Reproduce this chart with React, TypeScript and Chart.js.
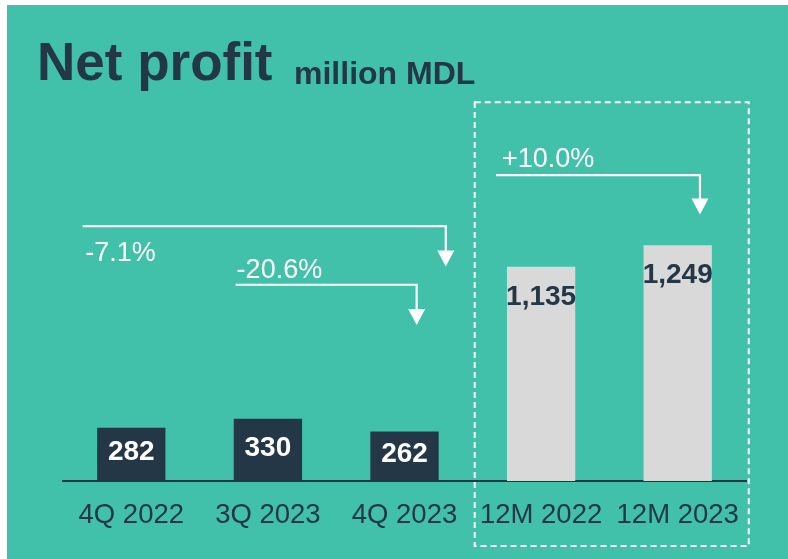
import { useEffect, useRef } from 'react';
import { Chart, registerables } from 'chart.js';

Chart.register(...registerables);

// ---- data ----
const categories = ['4Q 2022', '3Q 2023', '4Q 2023', '12M 2022', '12M 2023'];
const netProfit = [282, 330, 262, 1135, 1249];
const valueLabels = ['282', '330', '262', '1,135', '1,249'];
const changeLabels = ['-7.1%', '-20.6%', '+10.0%'];
const titleText = 'Net profit';
const unitText = 'million MDL';

// ---- styles ----
const TEAL = '#41C1AA';
const DARK = '#243746';
const GRAY = '#D9D9D9';
const FONT = '"Liberation Sans", Arial, sans-serif';
const barColors = [DARK, DARK, DARK, GRAY, GRAY];
const labelColors = ['#FFFFFF', '#FFFFFF', '#FFFFFF', DARK, DARK];

// annotation geometry in scale units (x = category index, y = value)
const arrowFromX = [-0.356, 0.764, 2.67];
const arrowToX = [2.302, 2.089, 4.163];
const arrowLevelY = [1351, 1040, 1621];
const arrowTipY = [1137, 827, 1412];
const changeLabelX = [-0.337, 0.771, 2.714];
const changeLabelY = [1165, 1075, 1665];
const boxX = [2.514, 4.52];
const boxY = [2007, -345];

const decorPlugin = {
  id: 'decor',
  beforeDraw(chart: any) {
    const ctx = chart.ctx;
    ctx.save();
    ctx.fillStyle = '#FFFFFF';
    ctx.fillRect(0, 0, chart.width, chart.height);
    ctx.fillStyle = TEAL;
    ctx.fillRect(7, 5, chart.width - 7, chart.height - 5);
    // title
    ctx.fillStyle = DARK;
    ctx.textBaseline = 'alphabetic';
    ctx.textAlign = 'left';
    ctx.font = `bold 53px ${FONT}`;
    ctx.fillText(titleText, 37, 80);
    ctx.font = `bold 32px ${FONT}`;
    ctx.fillText(unitText, 294, 84);
    ctx.restore();
  },
  afterDatasetsDraw(chart: any) {
    const ctx = chart.ctx;
    const xs = chart.scales.x;
    const ys = chart.scales.y;
    const meta = chart.getDatasetMeta(0);
    ctx.save();
    // value labels
    ctx.font = `bold 28px ${FONT}`;
    ctx.textAlign = 'center';
    ctx.textBaseline = 'middle';
    meta.data.forEach((bar: any, i: number) => {
      const top = bar.y;
      const base = bar.base;
      const y = Math.min(top + 30, (top + base) / 2 - 2);
      ctx.fillStyle = labelColors[i];
      ctx.fillText(valueLabels[i], bar.x, y);
    });
    // arrows
    ctx.strokeStyle = '#FFFFFF';
    ctx.fillStyle = '#FFFFFF';
    ctx.lineWidth = 2.2;
    changeLabels.forEach((lbl, i) => {
      const x0 = xs.getPixelForValue(arrowFromX[i]);
      const x1 = xs.getPixelForValue(arrowToX[i]);
      const y0 = ys.getPixelForValue(arrowLevelY[i]);
      const tip = ys.getPixelForValue(arrowTipY[i]);
      const headH = 16;
      const headW = 8.5;
      ctx.beginPath();
      ctx.moveTo(x0, y0);
      ctx.lineTo(x1, y0);
      ctx.lineTo(x1, tip - headH + 1);
      ctx.stroke();
      ctx.beginPath();
      ctx.moveTo(x1 - headW, tip - headH);
      ctx.lineTo(x1 + headW, tip - headH);
      ctx.lineTo(x1, tip);
      ctx.closePath();
      ctx.fill();
      ctx.font = `27px ${FONT}`;
      ctx.textAlign = 'left';
      ctx.textBaseline = 'alphabetic';
      ctx.fillText(lbl, xs.getPixelForValue(changeLabelX[i]), ys.getPixelForValue(changeLabelY[i]));
    });
    // dashed box
    const bx0 = xs.getPixelForValue(boxX[0]);
    const bx1 = xs.getPixelForValue(boxX[1]);
    const by0 = ys.getPixelForValue(boxY[0]);
    const by1 = ys.getPixelForValue(boxY[1]);
    ctx.setLineDash([6, 4]);
    ctx.lineWidth = 2;
    ctx.strokeRect(bx0, by0, bx1 - bx0, by1 - by0);
    ctx.restore();
  },
};

export default function App() {
  const ref = useRef<HTMLCanvasElement>(null);
  useEffect(() => {
    if (!ref.current) return;
    const chart = new Chart(ref.current, {
      type: 'bar',
      data: {
        labels: categories,
        datasets: [
          {
            data: netProfit,
            backgroundColor: barColors,
            borderWidth: 0,
            barPercentage: 0.5,
            categoryPercentage: 1,
          },
        ],
      },
      options: {
        responsive: false,
        animation: false,
        devicePixelRatio: 1,
        layout: { padding: { left: 63, right: 42, top: 103.6, bottom: 9 } },
        plugins: { legend: { display: false }, tooltip: { enabled: false }, title: { display: false } },
        scales: {
          x: {
            grid: { display: false, drawTicks: false },
            border: { display: true, color: DARK, width: 2 },
            ticks: { color: DARK, font: { size: 27.5, family: FONT }, padding: 18 },
          },
          y: { display: false, min: 0, max: 2000 },
        },
      },
      plugins: [decorPlugin],
    });
    return () => chart.destroy();
  }, []);
  return (
    <div style={{ position: 'fixed', left: 0, top: 0, width: 788, height: 559, background: '#fff' }}>
      <canvas ref={ref} width={788} height={559} style={{ display: 'block', width: 788, height: 559 }} />
    </div>
  );
}
